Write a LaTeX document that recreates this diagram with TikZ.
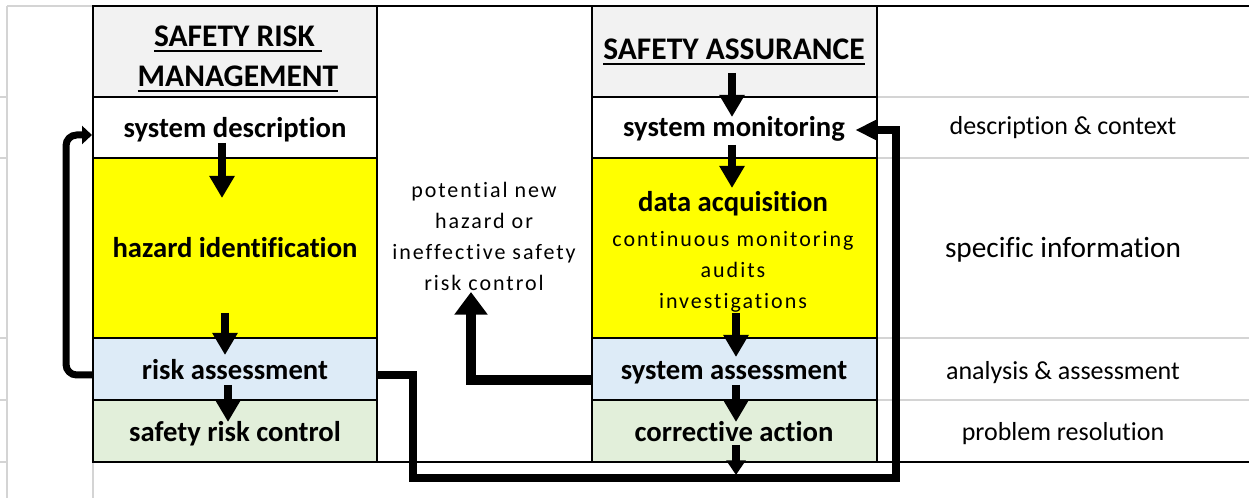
\documentclass[tikz,border=0pt]{standalone}
\usepackage{fontspec}
\setmainfont{Carlito}[Ligatures=NoCommon]
\newfontfamily\spaced[LetterSpace=9,Ligatures=NoCommon]{Carlito}
\usetikzlibrary{arrows.meta,fit}
\definecolor{hdr}{HTML}{F2F2F2}
\definecolor{yel}{HTML}{FFFF00}
\definecolor{lblue}{HTML}{DDEBF7}
\definecolor{lgreen}{HTML}{E2EFDA}
\definecolor{grid}{HTML}{D4D4D4}
\newcommand{\ulx}[1]{\setbox0\hbox{#1}\rlap{\rule[-4pt]{\wd0}{1.4pt}}\box0}
\begin{document}
\begin{tikzpicture}[x=0.75pt,y=-0.75pt,
  cell/.style={draw=black,line width=1.5pt,inner sep=0pt},
  gridline/.style={draw=grid,line width=1.5pt},
  frame/.style={draw=black,line width=1.6pt},
  lab/.style={anchor=base,inner sep=0pt,font=\fontsize{21.5}{24}\selectfont\bfseries},
  side/.style={anchor=base,inner sep=0pt,font=\fontsize{19.5}{22}\selectfont},
  head/.style={inner sep=0pt,align=center,font=\fontsize{23.6}{30}\selectfont\bfseries},
  small/.style={inner sep=0pt,align=center,font=\fontsize{16.5}{23.25}\selectfont\spaced},
  down/.style={line width=6pt,-{Triangle[width=18pt,length=16.5pt]}},
  lowdown/.style={line width=6pt,-{Triangle[width=14pt,length=11pt]}},
  loopl/.style={line width=5.25pt,rounded corners=8pt,-{Triangle[width=13.5pt,length=7.5pt]}},
  loopr/.style={line width=5.6pt,line join=miter,-{Triangle[width=15pt,length=16.5pt]}},
  upa/.style={line width=7.5pt,line join=miter,-{Triangle[width=24pt,length=17pt]}}]
\useasboundingbox (0,0) rectangle (1249,498);
\fill[white] (0,0) rectangle (1249,498);
% spreadsheet grid
\draw[gridline] (7,6) -- (7,498);
\draw[gridline] (7,6) -- (93,6);
\foreach \yy in {97,158,338,400,462} \draw[gridline] (0,\yy) -- (7,\yy);
\draw[gridline] (93,462) -- (93,498);
\foreach \yy in {97,158,338,400} \draw[gridline] (877,\yy) -- (1249,\yy);
% safety risk management column
\node[cell,fit={(93,6) (377,97)},fill=hdr] (srmh) {};
\node[cell,fit={(93,97) (377,158)},fill=white] (sd) {};
\node[cell,fit={(93,158) (377,338)},fill=yel] (hi) {};
\node[cell,fit={(93,338) (377,400)},fill=lblue] (ra) {};
\node[cell,fit={(93,400) (377,462)},fill=lgreen] (src) {};
% safety assurance column
\node[cell,fit={(592,6) (877,97)},fill=hdr] (sah) {};
\node[cell,fit={(592,97) (877,158)},fill=white] (sm) {};
\node[cell,fit={(592,158) (877,338)},fill=yel] (da) {};
\node[cell,fit={(592,338) (877,400)},fill=lblue] (sa) {};
\node[cell,fit={(592,400) (877,462)},fill=lgreen] (ca) {};
% outer lines
\draw[frame] (93,6) -- (1249,6);
\draw[frame] (93,462) -- (1249,462);
% texts
\node[head] (srmt) at (238,59) {\ulx{SAFETY RISK\ }\\\ulx{MANAGEMENT}};
\node[head,anchor=base] (sat) at (734,60) {\ulx{SAFETY ASSURANCE}};
\node[lab] (sdt) at (235,138) {system description};
\node[lab] (hit) at (235,258) {hazard identification};
\node[lab] (rat) at (235,380) {risk assessment};
\node[lab] (srct) at (235,442) {safety risk control};
\node[lab] (smt) at (734,137) {system monitoring};
\node[lab] (dat) at (733,212) {data acquisition};
\node[small] (dal) at (733,272) {continuous monitoring\\audits\\investigations};
\node[lab] (sat2) at (734,380) {system assessment};
\node[lab] (cat) at (734,442) {corrective action};
\node[small] (mid) at (484,236) {potential new\\hazard or\\ineffective safety\\risk control};
\node[side] (r1) at (1063,135) {description \& context};
\node[side,font=\fontsize{22}{24}\selectfont] (r2) at (1063,258) {specific information};
\node[side] (r3) at (1063,380) {analysis \& assessment};
\node[side] (r4) at (1063,441) {problem resolution};
% arrow end points
\coordinate (a1s) at (222,143); \coordinate (a1e) at (222,198);
\coordinate (a2s) at (225,313); \coordinate (a2e) at (225,355);
\coordinate (a3s) at (228,385); \coordinate (a3e) at (228,422);
\coordinate (b1s) at (732,73);  \coordinate (b1e) at (732,117);
\coordinate (b2s) at (732,145); \coordinate (b2e) at (732,188);
\coordinate (b3s) at (736,313); \coordinate (b3e) at (736,357);
\coordinate (b4s) at (736,385); \coordinate (b4e) at (736,422);
\coordinate (b5s) at (736,445); \coordinate (b5e) at (736,475);
\coordinate (lp1) at (66,375); \coordinate (lp2) at (66,135);
\coordinate (rp1) at (413,375); \coordinate (rp2) at (413,478);
\coordinate (rp3) at (896,478); \coordinate (rp4) at (896,130);
\coordinate (up1) at (471,380); \coordinate (upe) at (471,292);
% arrows
\draw[down] (a1s) -- (a1e);
\draw[down] (a2s) -- (a2e);
\draw[down] (a3s) -- (a3e);
\draw[down] (b1s) -- (b1e);
\draw[down] (b2s) -- (b2e);
\draw[down] (b3s) -- (b3e);
\draw[down] (b4s) -- (b4e);
\draw[lowdown] (b5s) -- (b5e);
\draw[loopl] (ra.west |- lp1) -- (lp1) -- (lp2) -- (sd.west |- lp2);
\draw[loopr] (ra.east |- rp1) -- (rp1) -- (rp2) -- (rp3) -- (rp4) -- ([xshift=-17pt]sm.east |- rp4);
\draw[upa] (sa.west |- up1) -- (up1) -- (upe);
\end{tikzpicture}
\end{document}
